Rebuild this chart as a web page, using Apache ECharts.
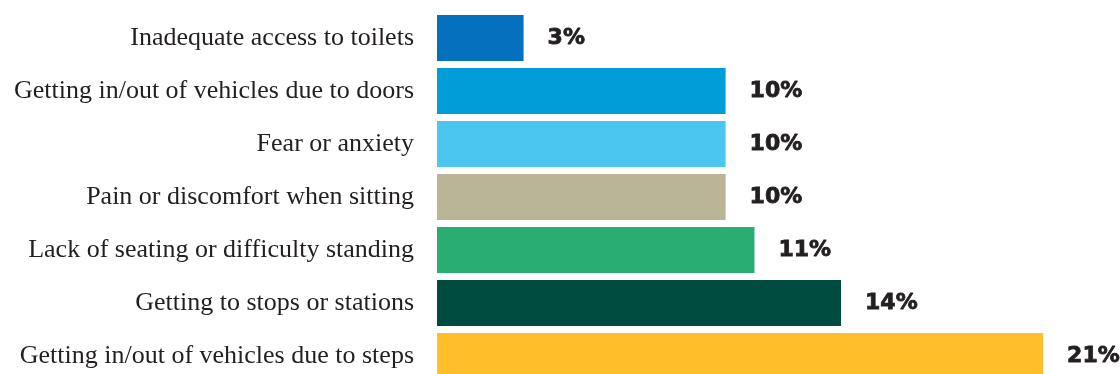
<!DOCTYPE html>
<html><head><meta charset="utf-8">
<script src="https://cdn.jsdelivr.net/npm/echarts@6/dist/echarts.min.js"></script>
<style>html,body{margin:0;padding:0;background:#fff}#c{width:1120px;height:374px}</style>
</head><body><div id="c"></div>
<script>
const categories = [
  "Inadequate access to toilets",
  "Getting in/out of vehicles due to doors",
  "Fear or anxiety",
  "Pain or discomfort when sitting",
  "Lack of seating or difficulty standing",
  "Getting to stops or stations",
  "Getting in/out of vehicles due to steps"
];
const values = [3, 10, 10, 10, 11, 14, 21];
const colors = ["#0571BE", "#009DD9", "#4BC6F0", "#BAB596", "#2AAD72", "#004B40", "#FFBE2A"];

const chart = echarts.init(document.getElementById('c'), null, {renderer: 'canvas'});
chart.setOption({
  animation: false,
  grid: {left: 437, right: 19.2, top: 11.5, height: 371, containLabel: false, outerBoundsMode: 'none'},
  xAxis: {type: 'value', min: 0, max: 23, show: false},
  yAxis: {
    type: 'category', data: categories, inverse: true,
    axisLine: {show: false}, axisTick: {show: false}, splitLine: {show: false},
    axisLabel: {margin: 23, color: '#231F20', fontFamily: 'Liberation Serif', fontSize: 26}
  },
  series: [{
    type: 'bar',
    data: values.map((v, i) => ({value: v, itemStyle: {color: colors[i]}})),
    barCategoryGap: '13%',
    label: {
      show: true, position: 'right', distance: 24,
      formatter: p => p.value + '%',
      color: '#231F20', fontFamily: 'DejaVu Sans', fontWeight: 'bold', fontSize: 22,
      textBorderColor: '#231F20', textBorderWidth: 0.8
    }
  }]
});
</script></body></html>
